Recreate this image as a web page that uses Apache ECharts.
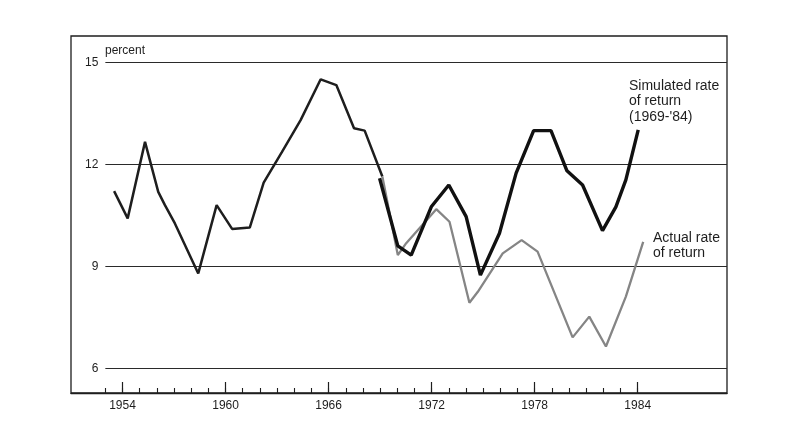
<!DOCTYPE html>
<html>
<head>
<meta charset="utf-8">
<script src="https://cdn.jsdelivr.net/npm/echarts@6/dist/echarts.min.js"></script>
<style>
html,body{margin:0;padding:0;background:#fff;}
#c{width:800px;height:439px;}
</style>
</head>
<body>
<div id="c"></div>
<script>
// Data (decimal year positions as plotted, percent)
const actualYears = [1953.51, 1954.30, 1955.31, 1956.08, 1956.47, 1957.05, 1958.41, 1959.48, 1960.38, 1961.41,
  1962.22, 1963.27, 1964.37, 1965.54, 1966.45, 1967.48, 1968.10, 1969.13, 1970.03, 1970.52,
  1972.27, 1973.04, 1974.20, 1974.69, 1976.14, 1977.24, 1978.17, 1980.21, 1981.18, 1982.15,
  1983.31, 1984.32];
const actualValues = [11.21, 10.41, 12.66, 11.19, 10.80, 10.26, 8.79, 10.80, 10.10, 10.14,
  11.46, 12.35, 13.30, 14.50, 14.33, 13.06, 12.99, 11.64, 9.33, 9.68,
  10.68, 10.31, 7.93, 8.25, 9.38, 9.77, 9.43, 6.91, 7.52, 6.64,
  8.11, 9.72];
const simYears = [1968.97, 1970.03, 1970.81, 1971.98, 1973.00, 1974.01, 1974.84, 1975.95, 1976.92, 1977.94,
  1978.95, 1979.88, 1980.79, 1981.95, 1982.73, 1983.31, 1984.03];
const simValues = [11.59, 9.60, 9.33, 10.75, 11.39, 10.46, 8.74, 9.97, 11.74, 12.99,
  12.99, 11.81, 11.39, 10.05, 10.75, 11.54, 13.01];
const simStartYear = 1969;
const yTicks = [6, 9, 12, 15];
const majorYears = [1954, 1960, 1966, 1972, 1978, 1984];
const minorYears = [1953, 1954, 1955, 1956, 1957, 1958, 1959, 1960, 1961, 1962, 1963, 1964, 1965, 1966,
  1967, 1968, 1969, 1970, 1971, 1972, 1973, 1974, 1975, 1976, 1977, 1978, 1979, 1980, 1981, 1982, 1983, 1984];
const yUnit = 'percent';
const simLabel = ['Simulated rate', 'of return', "(1969-'84)"];
const actLabel = ['Actual rate', 'of return'];

const FONT = '"Liberation Sans", Arial, Helvetica, sans-serif';
const INK = '#1e1e1e';

const chart = echarts.init(document.getElementById('c'), null, {renderer: 'canvas'});
const pair = (xs, ys) => xs.map((x, i) => [x, ys[i]]);
const actualPairs = pair(actualYears, actualValues);
// split index: last point at or before the start of the simulation period (shared point)
let splitIdx = 0;
actualYears.forEach((y, i) => { if (y < simStartYear + 0.5) splitIdx = i; });
const earlyPart = actualPairs.slice(0, splitIdx + 1);
const latePart = actualPairs.slice(splitIdx);

chart.setOption({
  backgroundColor: '#fff',
  animation: false,
  grid: [
    {left: 71, right: 73, top: 36, bottom: 46, show: true, borderColor: INK, borderWidth: 1.3, backgroundColor: 'transparent'},
    {left: 105.35, right: 73, top: 62.3, bottom: 70.7}
  ],
  xAxis: [
    {
      type: 'value', gridIndex: 0, min: 1951, max: 1989.2, position: 'bottom', offset: 0,
      axisLine: {show: true, lineStyle: {color: INK, width: 1.3}},
      axisTick: {show: true, inside: true, length: 11, customValues: majorYears, lineStyle: {color: INK, width: 1.2}},
      axisLabel: {show: true, customValues: majorYears, formatter: v => String(v), margin: 7,
        color: INK, fontFamily: FONT, fontSize: 12},
      splitLine: {show: false}
    },
    {
      type: 'value', gridIndex: 0, min: 1951, max: 1989.2, position: 'bottom', offset: 0,
      axisLine: {show: false},
      axisTick: {show: true, inside: true, length: 5, customValues: minorYears, lineStyle: {color: INK, width: 1.1}},
      axisLabel: {show: false},
      splitLine: {show: false}
    },
    {
      type: 'value', gridIndex: 1, min: 1953, max: 1989.2, show: false, splitLine: {show: false}
    }
  ],
  yAxis: [
    {type: 'value', gridIndex: 0, min: 5.265, max: 15.765, show: false, splitLine: {show: false}},
    {
      type: 'value', gridIndex: 1, min: yTicks[0], max: yTicks[yTicks.length - 1], interval: 3,
      axisLine: {show: false}, axisTick: {show: false},
      axisLabel: {show: true, margin: 7, color: INK, fontFamily: FONT, fontSize: 12},
      splitLine: {show: true, lineStyle: {color: '#2a2a2a', width: 1.2}}
    }
  ],
  series: [
    {
      name: 'Actual rate of return (to 1969)', type: 'line', xAxisIndex: 2, yAxisIndex: 1,
      data: earlyPart, showSymbol: false, symbol: 'none',
      lineStyle: {width: 2.5, color: '#1e1e1e'}, z: 3
    },
    {
      name: 'Actual rate of return', type: 'line', xAxisIndex: 2, yAxisIndex: 1,
      data: latePart, showSymbol: false, symbol: 'none',
      lineStyle: {width: 2.3, color: '#858585'}, z: 3
    },
    {
      name: 'Simulated rate of return', type: 'line', xAxisIndex: 2, yAxisIndex: 1,
      data: pair(simYears, simValues), showSymbol: false, symbol: 'none',
      lineStyle: {width: 3.4, color: '#111'}, z: 4
    }
  ],
  graphic: [
    {type: 'text', left: 105, top: 45, style: {text: yUnit, font: '12px ' + FONT, fill: INK}},
    {type: 'text', left: 629, top: 78, style: {text: simLabel.join('\n'), font: '14px ' + FONT, fill: INK, lineHeight: 15.5}},
    {type: 'text', left: 653, top: 230, style: {text: actLabel.join('\n'), font: '14px ' + FONT, fill: INK, lineHeight: 15.5}}
  ]
});
</script>
</body>
</html>
